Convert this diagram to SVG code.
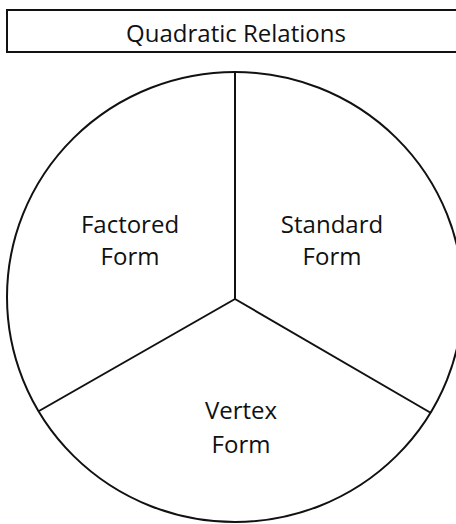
<svg xmlns="http://www.w3.org/2000/svg" width="456" height="524" viewBox="0 0 456 524">
<style>
.ln{fill:none;stroke:#111;stroke-width:2}
.t{font-family:"Open Sans","Noto Sans",sans-serif;font-size:24px;fill:#111;text-anchor:middle}
</style>
<rect width="456" height="524" fill="#fff"/>
<g id="title">
<rect class="ln" x="7" y="10" width="455" height="42"/>
<text class="t" x="236" y="42">Quadratic Relations</text>
</g>
<g id="circle">
<ellipse class="ln" cx="235" cy="297" rx="228" ry="225"/>
</g>
<g id="connectors">
<line class="ln" x1="235" y1="299" x2="235" y2="72"/>
<line class="ln" x1="235" y1="299" x2="39" y2="411"/>
<line class="ln" x1="235" y1="299" x2="431" y2="413"/>
</g>
<g id="factored">
<text class="t" x="130" y="233">Factored</text>
<text class="t" x="130" y="265">Form</text>
</g>
<g id="standard">
<text class="t" x="332" y="233">Standard</text>
<text class="t" x="332" y="265">Form</text>
</g>
<g id="vertex">
<text class="t" x="241" y="419">Vertex</text>
<text class="t" x="241" y="453">Form</text>
</g>
</svg>
